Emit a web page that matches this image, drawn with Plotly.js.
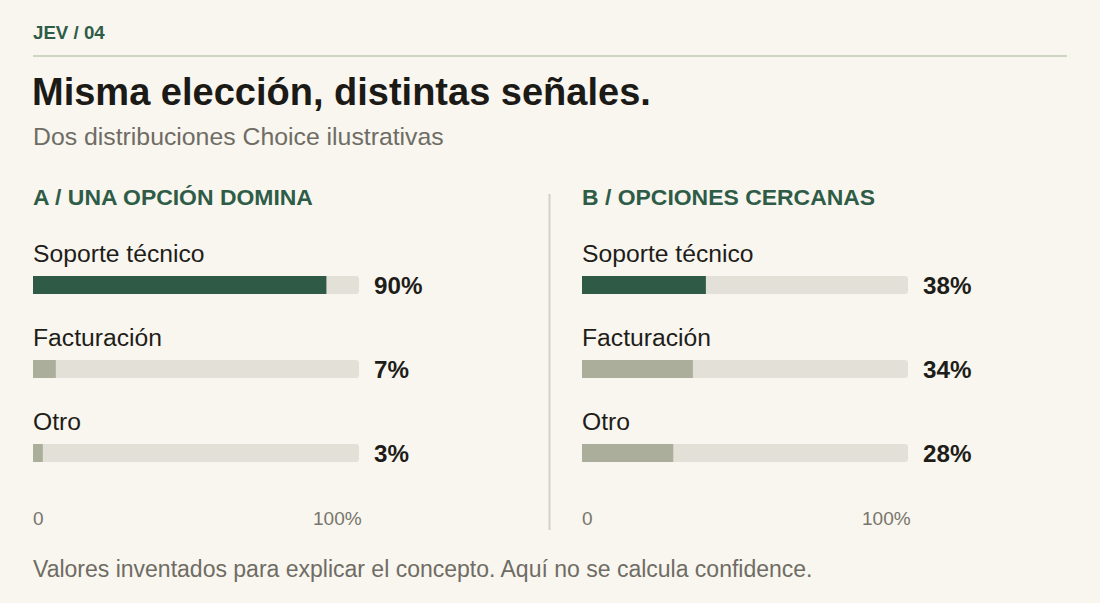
<!DOCTYPE html>
<html>
<head>
<meta charset="utf-8">
<script src="https://cdn.plot.ly/plotly-3.0.1.min.js"></script>
<style>
  html, body { margin: 0; padding: 0; background: #f9f6ef; }
  #myDiv { width: 1100px; height: 603px; }
</style>
</head>
<body>
<div id="myDiv"></div>
<script>
// data
var categories = ["Soporte técnico", "Facturación", "Otro"];
var valuesA = [90, 7, 3];
var valuesB = [38, 34, 28];
var panelTitles = ["A / UNA OPCIÓN DOMINA", "B / OPCIONES CERCANAS"];
var tickVals = [0, 100];
var tickText = ["0", "100%"];
var trackMax = 100;

var W = 1100, H = 603;
var FONT = '"Liberation Sans", Arial, sans-serif';
var GREEN = '#2f5a46', SAGE = '#abae9a', TRACK = '#e3e0d8';

function px(x) { return x / W; }
function py(y) { return 1 - y / H; }

// plain text note, no box padding so the anchor is the glyph edge
function note(o) {
  o.showarrow = false;
  o.borderpad = 0;
  o.borderwidth = 0;
  if (!o.yanchor) o.yanchor = 'middle';
  return o;
}

/**************************************************************/
function makePanelTraces(vals, xa, ya) {
  var track = {
    type: 'bar', orientation: 'h',
    x: categories.map(function () { return trackMax; }),
    y: categories,
    xaxis: xa, yaxis: ya,
    width: 0.215,
    marker: { color: TRACK, cornerradius: 3 },
    hoverinfo: 'skip', showlegend: false
  };
  var colors = vals.map(function (v, i) { return i == 0 ? GREEN : SAGE; });
  var bars = {
    type: 'bar', orientation: 'h',
    x: vals, y: categories,
    xaxis: xa, yaxis: ya,
    width: 0.215,
    marker: { color: colors, cornerradius: 3 },
    hoverinfo: 'skip', showlegend: false
  };
  return [track, bars];
}

function makePanelNotes(vals, xr, yr, titleX) {
  var notes = [];
  notes.push(note({
    xref: 'paper', yref: 'paper', x: px(titleX), y: py(197), xanchor: 'left',
    text: panelTitles[xr == 'x' ? 0 : 1],
    font: { family: FONT, size: 22.95, color: '#2e5c47', weight: 700 }
  }));
  for (var i = 0; i < categories.length; i++) {
    notes.push(note({
      xref: xr, yref: yr, x: 0, y: categories[i], yshift: 31.5, xanchor: 'left',
      text: categories[i],
      font: { family: FONT, size: 24.7, color: '#1e1d19' }
    }));
    notes.push(note({
      xref: xr, yref: yr, x: trackMax, y: categories[i], xshift: 15, xanchor: 'left',
      text: vals[i] + '%',
      font: { family: FONT, size: 24.2, color: '#1e1d19', weight: 700 }
    }));
  }
  for (var j = 0; j < tickVals.length; j++) {
    notes.push(note({
      xref: xr, yref: 'paper', x: tickVals[j], y: py(518),
      xanchor: j == 0 ? 'left' : 'right', xshift: j == 0 ? 0 : 3,
      text: tickText[j],
      font: { family: FONT, size: 19, color: '#77756c' }
    }));
  }
  return notes;
}

function getLayout() {
  var yDom = [py(495), py(243)];
  var ax = { range: [0, trackMax], showgrid: false, zeroline: false,
             showline: false, showticklabels: false, ticks: '', fixedrange: true };
  var ay = { type: 'category', range: [2.5, -0.5], showgrid: false, zeroline: false,
             showline: false, showticklabels: false, ticks: '', domain: yDom, fixedrange: true };

  var notes = [
    note({ xref: 'paper', yref: 'paper', x: px(33), y: py(33), xanchor: 'left',
      text: 'JEV / 04',
      font: { family: FONT, size: 18.7, color: '#2e5c47', weight: 700 } }),
    note({ xref: 'paper', yref: 'paper', x: px(33), y: py(137), xanchor: 'left',
      text: 'Dos distribuciones Choice ilustrativas',
      font: { family: FONT, size: 24.8, color: '#6e6c64' } }),
    note({ xref: 'paper', yref: 'paper', x: px(33), y: py(569), xanchor: 'left',
      text: 'Valores inventados para explicar el concepto. Aquí no se calcula confidence.',
      font: { family: FONT, size: 23, color: '#6e6c64' } })
  ];
  notes = notes.concat(makePanelNotes(valuesA, 'x', 'y', 33));
  notes = notes.concat(makePanelNotes(valuesB, 'x2', 'y2', 582));

  var p = {
    width: W, height: H,
    margin: { l: 0, r: 0, t: 0, b: 0, pad: 0 },
    paper_bgcolor: '#f9f6ef', plot_bgcolor: 'rgba(0,0,0,0)',
    barmode: 'overlay',
    showlegend: false,
    hovermode: false,
    title: {
      text: 'Misma elección, distintas señales.',
      x: px(32), xanchor: 'left', xref: 'paper',
      y: py(91.3), yanchor: 'middle', yref: 'paper',
      font: { family: FONT, size: 38, color: '#1b1a16', weight: 700 }
    },
    xaxis: Object.assign({}, ax, { domain: [px(33), px(359)], anchor: 'y' }),
    yaxis: Object.assign({}, ay, { anchor: 'x' }),
    xaxis2: Object.assign({}, ax, { domain: [px(582), px(908)], anchor: 'y2' }),
    yaxis2: Object.assign({}, ay, { anchor: 'x2' }),
    annotations: notes,
    shapes: [
      { type: 'line', xref: 'paper', yref: 'paper', x0: px(33), x1: px(1067), y0: py(56), y1: py(56),
        line: { color: '#cdd5c3', width: 2 } },
      { type: 'line', xref: 'paper', yref: 'paper', x0: px(549.5), x1: px(549.5), y0: py(194), y1: py(530),
        line: { color: '#d0d3c3', width: 2 } }
    ]
  };
  return p;
}

var data = makePanelTraces(valuesA, 'x', 'y').concat(makePanelTraces(valuesB, 'x2', 'y2'));
Plotly.newPlot('myDiv', data, getLayout(), { displayModeBar: false, staticPlot: true });
</script>
</body>
</html>
